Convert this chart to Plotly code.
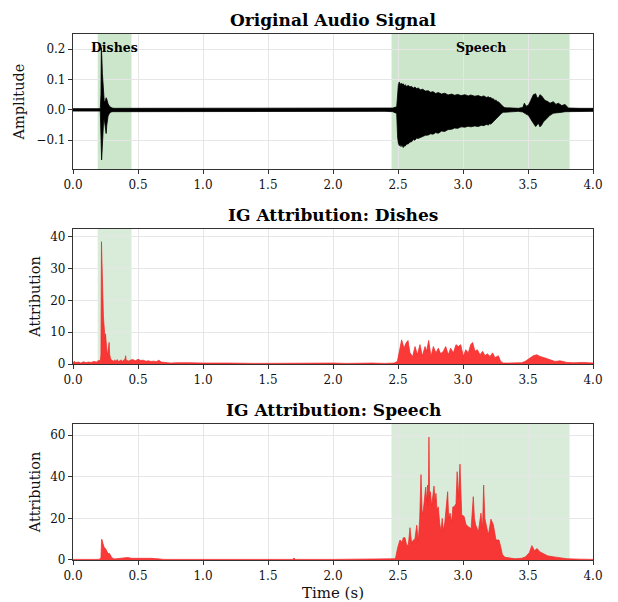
import plotly.graph_objects as go
from plotly.subplots import make_subplots

# ---------------- data ----------------
# waveform envelope (time s, upper amplitude, lower amplitude)
wave_t = [0.00, 0.05, 0.10, 0.15, 0.19, 0.210, 0.215, 0.218, 0.220, 0.222, 0.226, 0.230, 0.235,
          0.240, 0.245, 0.250, 0.255, 0.260, 0.265, 0.270, 0.280, 0.290, 0.300, 0.320,
          0.50, 1.00, 1.50, 2.00, 2.40, 2.46, 2.490, 2.497, 2.503, 2.510, 2.517, 2.523, 2.532,
          2.540, 2.547, 2.554, 2.566, 2.580, 2.592, 2.605, 2.618, 2.630, 2.643, 2.656, 2.672,
          2.690, 2.710, 2.733, 2.750, 2.770, 2.790, 2.810, 2.835, 2.860, 2.885, 2.913, 2.935,
          2.960, 2.985, 3.015, 3.040, 3.060, 3.090, 3.118, 3.140, 3.160, 3.180, 3.195, 3.205,
          3.215, 3.225, 3.233, 3.245, 3.255, 3.265, 3.272, 3.285, 3.297, 3.310, 3.323, 3.350,
          3.380, 3.426, 3.460, 3.472, 3.485, 3.503, 3.520, 3.541, 3.559, 3.570, 3.580, 3.592,
          3.605, 3.618, 3.631, 3.650, 3.669, 3.695, 3.715, 3.733, 3.760, 3.785, 3.810, 3.900,
          4.00]
wave_hi = [0.004, 0.004, 0.004, 0.004, 0.004, 0.004, 0.05, 0.205, 0.19, 0.17, 0.12, 0.08, 0.05,
           0.03, 0.025, 0.03, 0.04, 0.035, 0.025, 0.02, 0.012, 0.008, 0.006, 0.005,
           0.005, 0.005, 0.005, 0.005, 0.005, 0.006, 0.010, 0.070, 0.083, 0.092, 0.080, 0.088, 0.084,
           0.086, 0.080, 0.083, 0.078, 0.080, 0.076, 0.077, 0.072, 0.075, 0.070, 0.072, 0.066,
           0.068, 0.062, 0.063, 0.058, 0.060, 0.054, 0.057, 0.052, 0.055, 0.049, 0.052, 0.048,
           0.051, 0.047, 0.050, 0.046, 0.049, 0.045, 0.047, 0.043, 0.046, 0.041, 0.043, 0.040,
           0.041, 0.036, 0.037, 0.031, 0.032, 0.026, 0.027, 0.020, 0.016, 0.010, 0.007, 0.006,
           0.006, 0.005, 0.008, 0.022, 0.012, 0.015, 0.030, 0.050, 0.053, 0.040, 0.039, 0.050,
           0.046, 0.040, 0.031, 0.028, 0.022, 0.027, 0.018, 0.022, 0.014, 0.018, 0.006, 0.005,
           0.005]
wave_lo = [-0.004, -0.004, -0.004, -0.004, -0.004, -0.004, -0.03, -0.10, -0.165, -0.15, -0.10, -0.07, -0.04,
           -0.03, -0.04, -0.06, -0.078, -0.05, -0.03, -0.02, -0.012, -0.008, -0.006, -0.005,
           -0.005, -0.005, -0.005, -0.005, -0.005, -0.006, -0.012, -0.090, -0.110, -0.118, -0.114, -0.121, -0.117,
           -0.124, -0.118, -0.120, -0.113, -0.112, -0.106, -0.105, -0.098, -0.100, -0.093, -0.094, -0.089,
           -0.088, -0.084, -0.083, -0.079, -0.080, -0.075, -0.077, -0.070, -0.071, -0.065, -0.064, -0.060,
           -0.061, -0.056, -0.057, -0.054, -0.056, -0.053, -0.055, -0.051, -0.052, -0.048, -0.050, -0.046,
           -0.047, -0.042, -0.039, -0.034, -0.030, -0.025, -0.022, -0.016, -0.011, -0.008, -0.007, -0.006,
           -0.006, -0.005, -0.007, -0.011, -0.014, -0.018, -0.030, -0.044, -0.055, -0.050, -0.044, -0.056,
           -0.050, -0.040, -0.033, -0.025, -0.018, -0.011, -0.012, -0.009, -0.008, -0.006, -0.006, -0.005,
           -0.005]

# IG attribution for "Dishes"
dish_t = [0.00, 0.01, 0.02, 0.04, 0.06, 0.08, 0.10, 0.12, 0.14, 0.16, 0.18, 0.20, 0.21, 0.215,
          0.219, 0.222, 0.226, 0.230, 0.234, 0.238, 0.242, 0.246, 0.250, 0.254, 0.258, 0.262,
          0.266, 0.270, 0.274, 0.278, 0.282, 0.286, 0.290, 0.300, 0.310, 0.320, 0.330, 0.340,
          0.350, 0.360, 0.370, 0.380, 0.390, 0.400, 0.405, 0.410, 0.420, 0.430, 0.440, 0.460,
          0.480, 0.500, 0.520, 0.540, 0.560, 0.580, 0.600, 0.620, 0.640, 0.660, 0.680, 0.700,
          0.750, 0.800, 0.850, 0.900, 1.000, 1.100, 1.200, 1.400, 1.600, 1.800, 2.000, 2.100,
          2.200, 2.300, 2.400, 2.470, 2.495, 2.515, 2.528, 2.546, 2.562, 2.577, 2.592, 2.613,
          2.631, 2.649, 2.669, 2.687, 2.708, 2.720, 2.736, 2.754, 2.772, 2.792, 2.810, 2.828,
          2.849, 2.867, 2.887, 2.905, 2.926, 2.946, 2.964, 2.982, 3.003, 3.021, 3.041, 3.059,
          3.074, 3.092, 3.110, 3.131, 3.151, 3.169, 3.187, 3.208, 3.228, 3.246, 3.272, 3.290,
          3.310, 3.350, 3.400, 3.450, 3.477, 3.515, 3.541, 3.567, 3.592, 3.631, 3.669, 3.708,
          3.746, 3.800, 3.850, 3.925, 4.000]
dish_v = [0.3, 0.9, 0.4, 0.6, 0.3, 0.7, 0.4, 0.6, 0.5, 0.8, 0.6, 1.2, 0.8, 3.0,
          38.5, 30.0, 26.0, 21.0, 15.0, 11.0, 11.5, 8.0, 9.5, 6.0, 5.0, 3.5,
          3.0, 5.0, 6.5, 6.8, 3.0, 2.0, 1.5, 1.2, 0.8, 1.3, 0.9, 1.4,
          0.8, 1.0, 1.3, 0.9, 1.2, 1.5, 2.6, 1.0, 1.1, 0.9, 1.2, 1.4,
          1.0, 1.5, 1.1, 1.2, 0.9, 1.0, 0.8, 0.9, 0.7, 1.2, 0.6, 0.5,
          0.3, 0.4, 0.3, 0.4, 0.3, 0.2, 0.3, 0.2, 0.3, 0.3, 0.3, 0.2,
          0.3, 0.3, 0.2, 0.3, 0.8, 4.4, 7.6, 5.0, 6.6, 7.4, 3.5, 2.4,
          5.5, 2.9, 6.1, 2.5, 5.5, 4.0, 7.4, 2.4, 5.5, 3.5, 5.0, 3.2,
          4.0, 5.5, 2.9, 5.0, 3.5, 6.1, 5.5, 6.1, 2.4, 4.5, 3.5, 6.1,
          6.8, 4.0, 4.5, 2.9, 4.0, 2.6, 3.2, 2.4, 3.5, 2.0, 2.6, 0.8,
          0.3, 0.3, 0.3, 0.4, 0.8, 1.9, 2.6, 2.9, 2.4, 1.9, 1.4, 0.8,
          1.0, 0.5, 0.4, 0.5, 0.3]

# IG attribution for "Speech"
speech_t = [0.00, 0.05, 0.10, 0.15, 0.20, 0.215, 0.220, 0.225, 0.230, 0.240, 0.250, 0.260,
            0.270, 0.280, 0.290, 0.300, 0.320, 0.400, 0.420, 0.450, 0.500, 0.550, 0.600,
            0.650, 0.700, 0.900, 1.200, 1.500, 1.690, 1.700, 1.710, 2.000, 2.300, 2.400,
            2.480, 2.497, 2.515, 2.530, 2.541, 2.554, 2.567, 2.580, 2.592, 2.605, 2.618,
            2.630, 2.644, 2.656, 2.667, 2.677, 2.686, 2.695, 2.704, 2.713, 2.720, 2.728,
            2.733, 2.738, 2.743, 2.749, 2.759, 2.768, 2.777, 2.785, 2.792, 2.800, 2.810,
            2.820, 2.831, 2.840, 2.849, 2.860, 2.869, 2.882, 2.890, 2.900, 2.913, 2.922,
            2.931, 2.946, 2.955, 2.964, 2.977, 2.984, 2.990, 3.008, 3.023, 3.041, 3.062,
            3.070, 3.079, 3.088, 3.097, 3.118, 3.128, 3.138, 3.150, 3.159, 3.168, 3.177,
            3.195, 3.215, 3.233, 3.254, 3.277, 3.292, 3.303, 3.323, 3.400, 3.450, 3.480,
            3.510, 3.530, 3.550, 3.570, 3.590, 3.620, 3.650, 3.700, 3.750, 3.800, 3.900,
            4.000]
speech_v = [0.3, 0.3, 0.3, 0.3, 0.3, 1.0, 10.0, 9.5, 8.0, 6.0, 5.5, 4.0,
            3.0, 3.2, 2.0, 1.0, 0.5, 0.8, 1.2, 0.8, 0.9, 0.7, 0.8,
            0.6, 0.3, 0.3, 0.3, 0.3, 0.3, 1.0, 0.3, 0.3, 0.6, 0.5,
            0.6, 5.8, 9.6, 8.5, 10.7, 10.7, 6.9, 7.5, 15.5, 8.0, 9.6,
            10.0, 16.7, 9.0, 20.0, 41.0, 22.0, 24.0, 30.0, 35.0, 28.0, 36.0,
            26.0, 59.0, 30.0, 32.8, 26.0, 30.0, 35.5, 28.0, 32.0, 24.0, 25.5,
            18.0, 13.6, 20.0, 14.0, 18.0, 24.0, 32.8, 20.0, 22.5, 18.0, 25.5,
            25.5, 27.0, 42.4, 30.0, 46.0, 25.0, 21.6, 21.0, 17.0, 16.0, 15.0,
            22.0, 30.4, 20.0, 17.0, 13.5, 18.0, 22.5, 15.0, 36.0, 20.0, 17.0,
            12.0, 19.6, 17.0, 9.6, 9.6, 5.8, 2.6, 1.3, 0.6, 0.8, 1.5,
            3.5, 6.9, 4.5, 5.5, 4.0, 3.0, 2.0, 1.5, 1.0, 0.6, 0.4,
            0.3]

region_names = ["Dishes", "Speech"]
region_start = [0.19, 2.45]
region_end = [0.45, 3.82]

titles = ["Original Audio Signal", "IG Attribution: Dishes", "IG Attribution: Speech"]
x_ticks = [0.0, 0.5, 1.0, 1.5, 2.0, 2.5, 3.0, 3.5, 4.0]

# ---------------- figure ----------------
FONT = "DejaVu Serif"
fig = make_subplots(rows=3, cols=1, shared_xaxes=False, vertical_spacing=0.1)

# domains from pixel layout
doms = [[0.7433, 1.0], [0.3726, 0.6293], [0.0, 0.2586]]

# waveform (filled envelope)
fig.add_trace(go.Scatter(
    x=wave_t + wave_t[::-1], y=wave_hi + wave_lo[::-1],
    fill="toself", fillcolor="black", mode="lines",
    line=dict(color="black", width=0.8), hoverinfo="skip", showlegend=False),
    row=1, col=1)

red_fill = "rgba(250,30,30,0.88)"
fig.add_trace(go.Scatter(
    x=dish_t, y=dish_v, fill="tozeroy", fillcolor=red_fill, mode="lines",
    line=dict(color="rgba(240,40,40,0.9)", width=0.8), showlegend=False), row=2, col=1)
fig.add_trace(go.Scatter(
    x=speech_t, y=speech_v, fill="tozeroy", fillcolor=red_fill, mode="lines",
    line=dict(color="rgba(240,40,40,0.9)", width=0.8), showlegend=False), row=3, col=1)

# shaded regions
shapes = []
for i in range(2):
    shapes.append(dict(type="rect", xref="x", yref="y domain", x0=region_start[i], x1=region_end[i],
                       y0=0, y1=1, fillcolor="rgba(0,128,0,0.2)", line_width=0, layer="below"))
shapes.append(dict(type="rect", xref="x2", yref="y2 domain", x0=region_start[0], x1=region_end[0],
                   y0=0, y1=1, fillcolor="rgba(0,128,0,0.15)", line_width=0, layer="below"))
shapes.append(dict(type="rect", xref="x3", yref="y3 domain", x0=region_start[1], x1=region_end[1],
                   y0=0, y1=1, fillcolor="rgba(0,128,0,0.15)", line_width=0, layer="below"))
fig.update_layout(shapes=shapes)

annotations = []
for i in range(2):
    annotations.append(dict(x=(region_start[i] + region_end[i]) / 2, y=0.205, xref="x", yref="y",
                            text="<b>" + region_names[i] + "</b>", showarrow=False,
                            font=dict(family=FONT, size=12.5, color="black")))
title_y = [1.0, 0.6293, 0.2586]
for i in range(3):
    annotations.append(dict(x=0.5, y=title_y[i], xref="paper", yref="paper", yanchor="bottom",
                            yshift=2, text="<b>" + titles[i] + "</b>", showarrow=False,
                            font=dict(family=FONT, size=17, color="black")))
fig.update_layout(annotations=annotations)

axis_common = dict(showline=True, linecolor="#333333", linewidth=1.2, mirror=True,
                   ticks="outside", ticklen=4, tickwidth=1, tickcolor="#333333",
                   showgrid=True, gridcolor="#e6e6e6", gridwidth=0.8, zeroline=False,
                   automargin=False,
                   tickfont=dict(family=FONT, size=12, color="#111111"))

for r in range(3):
    name = "xaxis" if r == 0 else "xaxis%d" % (r + 1)
    fig.layout[name].update(range=[0, 4], tickvals=x_ticks,
                            ticktext=["%.1f" % v for v in x_ticks], domain=[0, 1],
                            **axis_common)
fig.layout.xaxis3.update(title=dict(text="Time (s)", font=dict(family=FONT, size=15, color="#111111"),
                                    standoff=7))

fig.layout.yaxis.update(range=[-0.195, 0.25], tickvals=[-0.1, 0.0, 0.1, 0.2],
                        ticktext=["\u22120.1", "0.0", "0.1", "0.2"], domain=doms[0],
                        title=dict(text="Amplitude", font=dict(family=FONT, size=14.5, color="#111111"),
                                   standoff=8), **axis_common)
fig.layout.yaxis2.update(range=[0, 42.5], tickvals=[0, 10, 20, 30, 40], domain=doms[1],
                         title=dict(text="Attribution", font=dict(family=FONT, size=14.5, color="#111111"),
                                    standoff=6), **axis_common)
fig.layout.yaxis3.update(range=[0, 65.3], tickvals=[0, 20, 40, 60], domain=doms[2],
                         title=dict(text="Attribution", font=dict(family=FONT, size=14.5, color="#111111"),
                                    standoff=6), **axis_common)

# the page adds an 8px body margin, so the figure is offset by (8, 8)
fig.update_layout(width=610, height=594, margin=dict(l=65, r=25, t=26, b=42),
                  plot_bgcolor="white", paper_bgcolor="white",
                  font=dict(family=FONT, size=12, color="#111111"), showlegend=False)

fig.write_html("out.html")
